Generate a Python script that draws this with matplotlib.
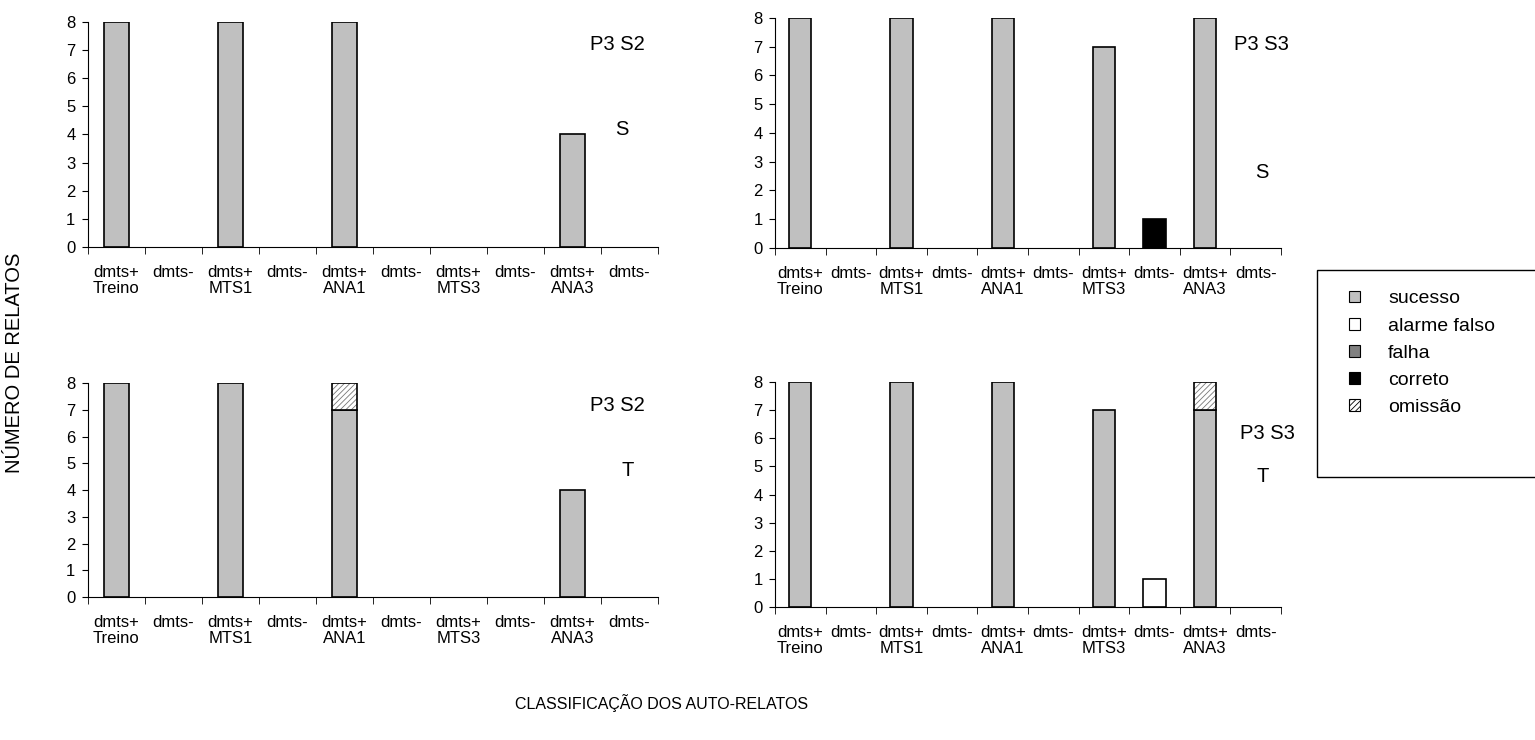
import numpy as np
import matplotlib.pyplot as plt
from matplotlib.patches import Patch, Rectangle

plt.rcParams['font.family'] = ['Liberation Sans', 'DejaVu Sans']
plt.rcParams['hatch.linewidth'] = 0.6

# 1. data
sessoes = ['Treino', 'MTS1', 'ANA1', 'MTS3', 'ANA3']
categorias = ['sucesso', 'alarme falso', 'falha', 'correto', 'omissão']
cores = {'sucesso': '#c0c0c0', 'alarme falso': 'white', 'falha': '#808080',
         'correto': 'black', 'omissão': 'white'}

# each list: dmts+ / dmts- for each session
s2_S_sucesso = [8, 0, 8, 0, 8, 0, 0, 0, 4, 0]

s3_S_sucesso = [8, 0, 8, 0, 8, 0, 7, 0, 8, 0]
s3_S_correto = [0, 0, 0, 0, 0, 0, 0, 1, 0, 0]

s2_T_sucesso = [8, 0, 8, 0, 7, 0, 0, 0, 4, 0]
s2_T_omissao = [0, 0, 0, 0, 1, 0, 0, 0, 0, 0]

s3_T_sucesso = [8, 0, 8, 0, 8, 0, 7, 0, 7, 0]
s3_T_alarme = [0, 0, 0, 0, 0, 0, 0, 1, 0, 0]
s3_T_omissao = [0, 0, 0, 0, 0, 0, 0, 0, 1, 0]

paineis = [
    ('P3 S2', 'S', {'sucesso': s2_S_sucesso}),
    ('P3 S3', 'S', {'sucesso': s3_S_sucesso, 'correto': s3_S_correto}),
    ('P3 S2', 'T', {'sucesso': s2_T_sucesso, 'omissão': s2_T_omissao}),
    ('P3 S3', 'T', {'sucesso': s3_T_sucesso, 'alarme falso': s3_T_alarme,
                    'omissão': s3_T_omissao}),
]

# axes positions [left, bottom, width, height] in figure fraction
posicoes = [
    [0.0573, 0.6662, 0.3714, 0.3041],
    [0.5049, 0.6649, 0.3296, 0.3108],
    [0.0573, 0.1932, 0.3714, 0.2892],
    [0.5049, 0.1797, 0.3296, 0.3041],
]
# text positions (axes fraction) for title / letter
textos = [
    ((0.928, 0.898), (0.937, 0.52)),
    ((0.962, 0.883), (0.962, 0.326)),
    ((0.928, 0.897), (0.947, 0.593)),
    ((0.974, 0.769), (0.964, 0.578)),
]

rotulos = []
for s in sessoes:
    rotulos += ['dmts+\n' + s, 'dmts-']

# 2. figure
fig = plt.figure(figsize=(15.35, 7.4), dpi=100)
x = np.arange(10)
largura = 0.44

for (titulo, letra, series), pos, (tpos, lpos) in zip(paineis, posicoes, textos):
    ax = fig.add_axes(pos)
    base = np.zeros(10)
    for cat in categorias:
        if cat not in series:
            continue
        vals = np.array(series[cat], dtype=float)
        m = vals > 0
        if cat == 'omissão':
            ax.bar(x[m], vals[m], largura, bottom=base[m], color='white',
                   edgecolor='#777777', linewidth=0, hatch='//////')
            ax.bar(x[m], vals[m], largura, bottom=base[m], fill=False,
                   edgecolor='black', linewidth=1.2)
        else:
            ax.bar(x[m], vals[m], largura, bottom=base[m], color=cores[cat],
                   edgecolor='black', linewidth=1.2)
        base += vals
    ax.set_xlim(-0.5, 9.5)
    ax.set_ylim(0, 8)
    ax.set_yticks(range(9))
    ax.set_xticks(x)
    ax.set_xticklabels(rotulos, fontsize=12, linespacing=1.05)
    ax.set_xticks(np.arange(-0.5, 10, 1), minor=True)
    ax.tick_params(axis='x', which='major', length=0, pad=13)
    ax.tick_params(axis='x', which='minor', length=5, direction='out')
    ax.tick_params(axis='y', labelsize=12, length=4, pad=5)
    ax.spines['top'].set_visible(False)
    ax.spines['right'].set_visible(False)
    ax.text(tpos[0], tpos[1], titulo, transform=ax.transAxes, ha='center',
            va='center', fontsize=14.5)
    ax.text(lpos[0], lpos[1], letra, transform=ax.transAxes, ha='center',
            va='center', fontsize=14.5)

# legend (box drawn separately, it runs off the right edge)
handles = []
for cat in categorias:
    if cat == 'omissão':
        handles.append(Patch(facecolor='white', edgecolor='black', hatch='//////',
                             linewidth=0.8, label=cat))
    else:
        handles.append(Patch(facecolor=cores[cat], edgecolor='black',
                             linewidth=0.8, label=cat))
fig.legend(handles=handles, loc='upper left', bbox_to_anchor=(0.879, 0.6075),
           fontsize=14, frameon=False, handlelength=0.55, handleheight=0.55,
           labelspacing=0.52, handletextpad=1.45, borderpad=0, borderaxespad=0)
fig.add_artist(Rectangle((1317 / 1535, 1 - 477 / 740), 0.2, 207 / 740,
                         transform=fig.transFigure, fill=False,
                         edgecolor='black', linewidth=1.0))

fig.text(0.0095, 0.51, 'NÚMERO DE RELATOS', rotation=90, ha='center',
         va='center', fontsize=14.5)
fig.text(0.431, 0.05, 'CLASSIFICAÇÃO DOS AUTO-RELATOS', ha='center',
         va='center', fontsize=11.5)

plt.savefig('out.png', dpi=100)
